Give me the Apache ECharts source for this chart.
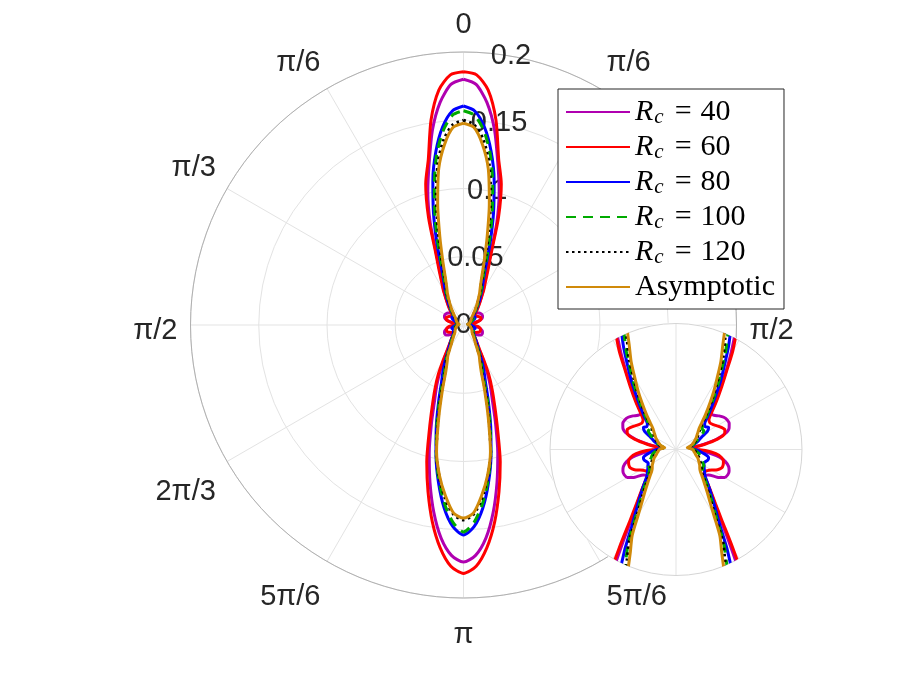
<!DOCTYPE html>
<html><head><meta charset="utf-8">
<script src="https://cdn.jsdelivr.net/npm/echarts@6/dist/echarts.min.js"></script>
<style>html,body{margin:0;padding:0;background:#fff}#c{width:897px;height:673px}</style>
</head><body><div id="c"></div>
<script>
// angles (degrees from top, one half of the symmetric pattern)
const angles = [0,3,6,9,12,15,18,21,24,27,30,33,36,40,44,48,52,56,60,64,68,72,76,80,84,88,92,96,100,104,108,112,116,120,124,128,132,136,140,144,147,150,153,156,159,162,165,168,171,174,177,180];
const rc40 = [0.1800,0.1765,0.164,0.145,0.121,0.101,0.079,0.055,0.042,0.0341,0.0286,0.0237,0.0198,
 0.0160,0.0132,0.0134,0.0143,0.0151,0.0155,0.0155,0.0150,0.0136,0.0108,0.0068,0.0046,0.0044,0.0061,0.0088,0.0116,0.0134,0.0145,0.0150,0.0151,0.0147,0.0130,0.0108,0.0101,0.0114,0.0138,0.0171,
 0.0209,0.0275,0.0374,0.048,0.059,0.076,0.097,0.118,0.139,0.157,0.169,0.1736];
const rc60 = [0.1855,0.1835,0.173,0.152,0.124,0.107,0.083,0.057,0.044,0.0352,0.0297,0.0242,0.0204,
 0.0165,0.0134,0.0116,0.0113,0.0117,0.0124,0.0132,0.0138,0.0134,0.0112,0.0075,0.0046,0.0046,0.0077,0.0105,0.0121,0.0128,0.0130,0.0129,0.0121,0.0108,0.0099,0.0094,0.0099,0.0116,0.0141,0.0176,
 0.022,0.0297,0.0407,0.0515,0.064,0.081,0.104,0.125,0.146,0.164,0.177,0.182];
const rc80 = [0.1604,0.157,0.146,0.129,0.108,0.085,0.063,0.045,0.0357,0.0303,0.0253,0.0215,0.0179,
 0.0145,0.0119,0.0101,0.0097,0.0103,0.0095,0.0075,0.0064,0.0055,0.0047,0.0036,0.0036,0.0044,0.0055,0.0066,0.0079,0.0088,0.0088,0.0084,0.0081,0.0085,0.0089,0.0095,0.0102,0.0117,0.0138,0.0165,
 0.0193,0.0231,0.0297,0.0368,0.045,0.059,0.077,0.097,0.117,0.135,0.148,0.1538];
const rc100 = [0.157,0.154,0.143,0.126,0.103,0.080,0.059,0.042,0.0336,0.0286,0.0237,0.0201,0.0168,
 0.0135,0.0110,0.0094,0.0087,0.0088,0.0078,0.0066,0.0057,0.0051,0.0044,0.0033,0.0035,0.0043,0.0050,0.0055,0.0061,0.0065,0.0068,0.0073,0.0078,0.0084,0.0084,0.0088,0.0096,0.0109,0.0129,0.0154,
 0.0179,0.0217,0.0275,0.0326,0.040,0.056,0.075,0.096,0.115,0.132,0.145,0.1516];
const rc120 = [0.150,0.147,0.137,0.120,0.096,0.072,0.053,0.039,0.0315,0.0273,0.0226,0.0190,0.0160,
 0.0128,0.0103,0.0087,0.0077,0.0070,0.0065,0.0059,0.0054,0.0048,0.0043,0.0032,0.0035,0.0043,0.0047,0.0051,0.0054,0.0057,0.0062,0.0066,0.0070,0.0075,0.0079,0.0085,0.0091,0.0106,0.0123,0.0149,
 0.0173,0.0209,0.0270,0.0315,0.038,0.053,0.072,0.096,0.113,0.128,0.139,0.1428];
const asym = [0.1478,0.145,0.133,0.116,0.091,0.067,0.049,0.037,0.0302,0.0259,0.0215,0.0182,0.0152,
 0.0121,0.0097,0.0081,0.0073,0.0066,0.0061,0.0055,0.0050,0.0045,0.0040,0.0030,0.0033,0.0041,0.0045,0.0047,0.0050,0.0053,0.0057,0.0062,0.0066,0.0070,0.0075,0.0079,0.0086,0.0099,0.0116,0.0140,
 0.0163,0.0198,0.0253,0.0294,0.036,0.050,0.070,0.095,0.112,0.126,0.138,0.1414];

const seriesNames = ['Rc40','Rc60','Rc80','Rc100','Rc120','Asymptotic'];
const legendLabels = ['40','60','80','100','120',null];
const seriesData = [rc40, rc60, rc80, rc100, rc120, asym];
const colors = ['#B000B0','#FF0000','#0000FF','#00AA00','#000000','#D08A0A'];
const dashes = ['solid','solid','solid',[10,7],[2.5,3.5],'solid'];
const thetaLabels = {0:'0',30:'π/6',60:'π/3',90:'π/2',120:'2π/3',150:'5π/6',180:'π',210:'5π/6',240:'2π/3',270:'π/2',300:'π/3',330:'π/6'};
const rTicks = [0,0.05,0.1,0.15,0.2];

function fullCurve(r){
  const out = [];
  for (let i=0;i<angles.length;i++) out.push([r[i], angles[i]]);
  for (let i=angles.length-2;i>=0;i--) out.push([r[i], 360-angles[i]]);
  return out;
}

const MC = [463.5, 325], MR = 273;
const IC = [676, 449.5], IR = 126;
const insetMax = 0.033;

const series = [];
series.push({type:'pie', center:IC, radius:[0, IR+1], silent:true, z:1, label:{show:false}, labelLine:{show:false},
  itemStyle:{color:'#fff', borderWidth:0}, data:[{value:1, name:'_bg'}], legendHoverLink:false});
for (let k=0;k<seriesData.length;k++){
  const base = {type:'line', name:seriesNames[k], coordinateSystem:'polar', showSymbol:false, symbol:'none',
    smooth:0.25, animation:false, clip:true,
    lineStyle:{color:colors[k], width:3, type:dashes[k]}, itemStyle:{color:colors[k]},
    data: fullCurve(seriesData[k])};
  series.push(Object.assign({}, base, {polarIndex:0, z:3}));
  series.push(Object.assign({}, base, {polarIndex:1, z:4}));
}

const font = '"Liberation Sans", Arial, sans-serif';
const serif = '"Liberation Serif", "Times New Roman", serif';
const lab = (pad) => ({fontSize:29, fontFamily:font, color:'#262626', padding:[pad,0,0,0]});
const padFor = {0:0,30:0,60:0,90:12,120:9,150:10,180:9,210:10,240:9,270:12,300:0,330:0};
const option = {
  backgroundColor:'#fff',
  animation:false,
  polar:[
    {center:MC, radius:MR},
    {center:IC, radius:IR},
    {center:MC, radius:MR}
  ],
  angleAxis:[
    {polarIndex:0, type:'value', min:0, max:360, interval:30, startAngle:90, clockwise:true, z:0,
     axisLine:{show:true, lineStyle:{color:'#B0B0B0', width:1}},
     axisTick:{show:false},
     splitLine:{show:true, lineStyle:{color:'#E3E3E3', width:1}},
     axisLabel:{show:true, margin:13, color:'#262626', fontSize:29, fontFamily:font,
       rich:{p0:lab(0), p9:lab(9), p10:lab(10), p12:lab(12)},
       formatter:v => (v===60||v===120||thetaLabels[v]===undefined)?'':('{p'+padFor[v]+'|'+thetaLabels[v]+'}')}},
    {polarIndex:1, type:'value', min:0, max:360, interval:30, startAngle:90, clockwise:true, z:2,
     axisLine:{show:true, lineStyle:{color:'#D5D5D5', width:1}},
     axisTick:{show:false}, axisLabel:{show:false},
     splitLine:{show:true, lineStyle:{color:'#E3E3E3', width:1}}},
    {polarIndex:2, type:'value', min:0, max:360, startAngle:80, clockwise:true, z:0,
     axisLine:{show:false}, axisTick:{show:false}, axisLabel:{show:false}, splitLine:{show:false}}
  ],
  radiusAxis:[
    {polarIndex:0, type:'value', min:0, max:0.2, interval:0.05, z:0,
     axisLine:{show:false}, axisTick:{show:false}, axisLabel:{show:false},
     splitLine:{show:true, lineStyle:{color:'#E3E3E3', width:1}}},
    {polarIndex:1, type:'value', min:0, max:insetMax, z:2,
     axisLine:{show:false}, axisTick:{show:false}, axisLabel:{show:false}, splitLine:{show:false}},
    {polarIndex:2, type:'value', min:0, max:0.2, interval:0.05, z:0,
     axisLine:{show:false}, axisTick:{show:false}, splitLine:{show:false},
     axisLabel:{show:true, margin:0, align:'center', verticalAlign:'middle', rotate:0,
       showMinLabel:true, showMaxLabel:true, color:'#262626', fontSize:29, fontFamily:font,
       formatter:v => { const t = rTicks.find(x => Math.abs(x-v)<1e-9); return t===undefined?'':String(t); }}}
  ],
  legend:{
    show:true, orient:'vertical', left:558, top:89, z:10,
    data:seriesNames,
    backgroundColor:'#fff', borderColor:'#262626', borderWidth:1,
    padding:[8,9,7,7], itemGap:4, itemWidth:64, itemHeight:14,
    itemStyle:{opacity:0},
    selectedMode:false,
    textStyle:{color:'#000', fontFamily:serif, fontSize:30,
      rich:{
        i:{fontStyle:'italic', fontSize:30, fontFamily:serif, color:'#000', lineHeight:32},
        s:{fontStyle:'italic', fontSize:21, fontFamily:serif, color:'#000', lineHeight:20, verticalAlign:'bottom', padding:[0,0,0,1]},
        e:{fontSize:30, fontFamily:serif, color:'#000', lineHeight:32, padding:[0,9,0,11]},
        n:{fontSize:30, fontFamily:serif, color:'#000', lineHeight:32}
      }},
    formatter: name => {
      const idx = seriesNames.indexOf(name);
      const l = legendLabels[idx];
      if (l === null) return '{n|Asymptotic}';
      return '{i|R}{s|c}{e|=}{n|' + l + '}';
    }
  },
  series: series
};
const chart = echarts.init(document.getElementById('c'), null, {renderer:'canvas'});
chart.setOption(option);
</script>
</body></html>
